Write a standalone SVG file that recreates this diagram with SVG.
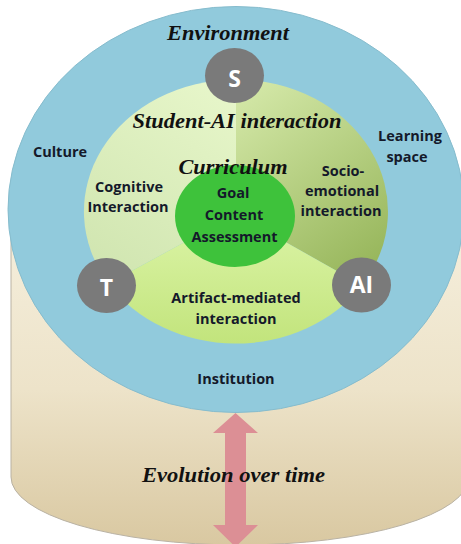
<svg xmlns="http://www.w3.org/2000/svg" width="461" height="544" viewBox="0 0 461 544">
<style>
.lbl{font-family:"Open Sans","Liberation Sans",sans-serif;font-weight:700;font-size:14.5px;fill:#14192a;text-anchor:middle}
.ttl{font-family:"Liberation Serif","Times New Roman",serif;font-weight:700;font-style:italic;font-size:20px;fill:#111;text-anchor:middle}
.ini{font-family:"Open Sans","Liberation Sans",sans-serif;font-weight:700;font-size:23px;fill:#fff;text-anchor:middle}
.agent{fill:#7a7a7a}
</style>
<defs>
<linearGradient id="gBeige" x1="0" y1="200" x2="0" y2="545" gradientUnits="userSpaceOnUse">
<stop offset="0" stop-color="#f6f0df"/><stop offset="0.55" stop-color="#ede3c9"/><stop offset="1" stop-color="#d9c8a1"/>
</linearGradient>
<linearGradient id="gTL" x1="236" y1="80" x2="110" y2="280" gradientUnits="userSpaceOnUse">
<stop offset="0" stop-color="#e8f7cb"/><stop offset="1" stop-color="#d0e5b0"/>
</linearGradient>
<linearGradient id="gTR" x1="240" y1="90" x2="370" y2="270" gradientUnits="userSpaceOnUse">
<stop offset="0" stop-color="#d4e8a8"/><stop offset="1" stop-color="#97b65b"/>
</linearGradient>
<linearGradient id="gB" x1="0" y1="220" x2="0" y2="344" gradientUnits="userSpaceOnUse">
<stop offset="0" stop-color="#dbf4a6"/><stop offset="1" stop-color="#c2e47c"/>
</linearGradient>
</defs>

<g id="time-cylinder">
<path d="M11,200 L11,477 A229,68 0 0 0 469,477 L469,200 Z" fill="url(#gBeige)" stroke="#b9b2a3" stroke-width="1"/>
</g>

<g id="connectors">
<polygon points="235.5,413 258,433 246,433 246,525 258,525 235.5,547 213,525 225,525 225,433 213,433" fill="#dc8f95"/>
</g>

<g id="environment">
<ellipse cx="236" cy="209.5" rx="228" ry="203" fill="#91cadc" stroke="#86bccd" stroke-width="1"/>
<text class="ttl" x="228" y="40" textLength="122" lengthAdjust="spacingAndGlyphs">Environment</text>
<text class="lbl" x="60" y="157">Culture</text>
<text class="lbl" x="410" y="141">Learning</text>
<text class="lbl" x="407" y="162">space</text>
<text class="lbl" x="236" y="384">Institution</text>
</g>

<g id="student-ai-interaction">
<path d="M236,214 L236,79.5 A152,132 0 0 0 108.6,283.6 Z" fill="url(#gTL)"/>
<path d="M236,214 L236,79.5 A152,132 0 0 1 362,285.3 Z" fill="url(#gTR)"/>
<path d="M236,214 L108.6,283.6 A152,132 0 0 0 362,285.3 Z" fill="url(#gB)"/>
<text class="ttl" x="237" y="128" textLength="209" lengthAdjust="spacingAndGlyphs">Student-AI interaction</text>
<text class="lbl" x="129" y="192">Cognitive</text>
<text class="lbl" x="128" y="212">Interaction</text>
<text class="lbl" x="343" y="176">Socio-</text>
<text class="lbl" x="342" y="196">emotional</text>
<text class="lbl" x="341" y="216">interaction</text>
<text class="lbl" x="236" y="303">Artifact-mediated</text>
<text class="lbl" x="236" y="324">interaction</text>
</g>

<g id="curriculum">
<ellipse cx="235" cy="216" rx="60" ry="51" fill="#3ec23b"/>
<text class="ttl" x="233" y="174" textLength="109" lengthAdjust="spacingAndGlyphs">Curriculum</text>
<text class="lbl" x="233" y="198">Goal</text>
<text class="lbl" x="234" y="220">Content</text>
<text class="lbl" x="234.5" y="242">Assessment</text>
</g>

<g id="agent-S">
<ellipse class="agent" cx="234.5" cy="75.5" rx="29.5" ry="27.5"/>
<text class="ini" x="234.5" y="87">S</text>
</g>
<g id="agent-T">
<ellipse class="agent" cx="106.5" cy="285.5" rx="29.5" ry="27.5"/>
<text class="ini" x="106.5" y="296">T</text>
</g>
<g id="agent-AI">
<ellipse class="agent" cx="361.5" cy="285" rx="29.5" ry="27.5"/>
<text class="ini" x="361.5" y="293">AI</text>
</g>

<g id="time-label">
<text class="ttl" x="233.5" y="482" textLength="183" lengthAdjust="spacingAndGlyphs">Evolution over time</text>
</g>
</svg>
